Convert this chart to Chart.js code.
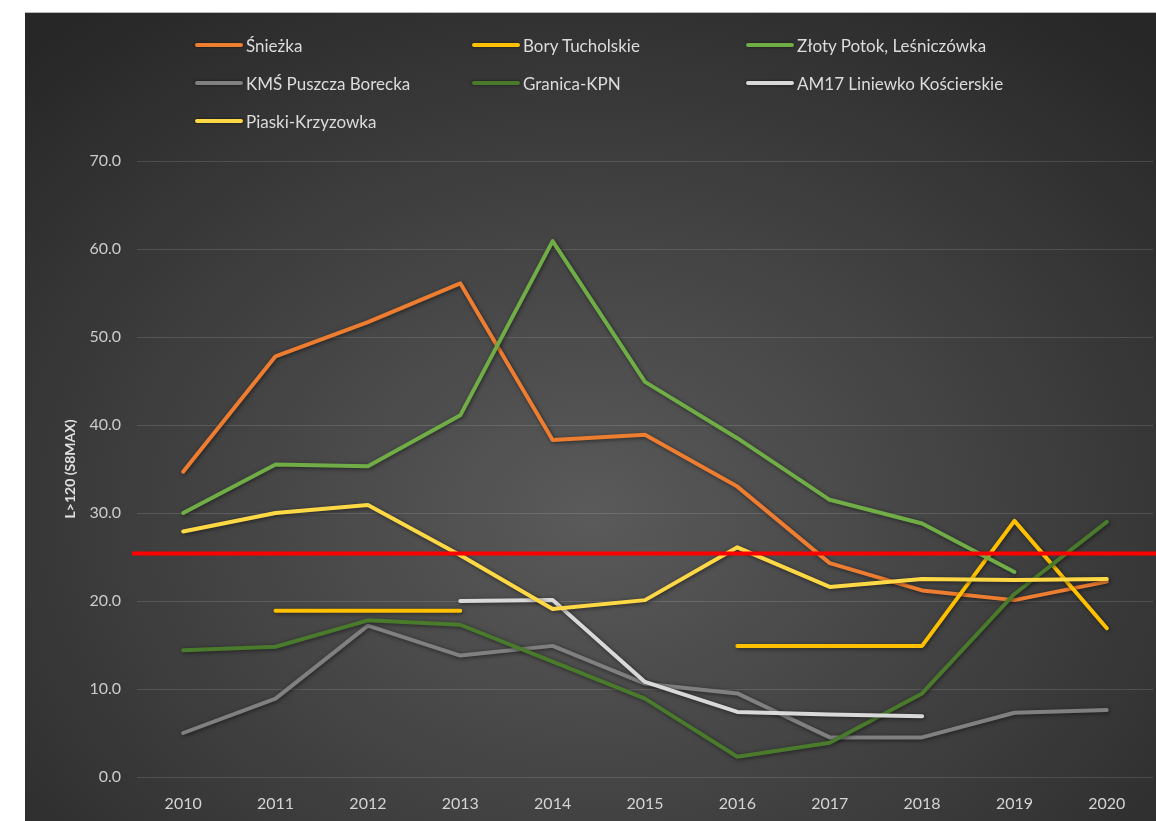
<!DOCTYPE html>
<html>
<head>
<meta charset="utf-8">
<script src="https://cdn.jsdelivr.net/npm/chart.js@4/dist/chart.umd.min.js"></script>
<style>
  html, body { margin: 0; background: #2b2b2b; overflow: hidden; width: 100%; height: 100%; }
  #topWhite { position: fixed; left: 0; top: 0; width: 100%; height: 13px; background: #ffffff; border-bottom: 1px solid #b8b8b8; box-sizing: border-box; }
  #leftWhite { position: fixed; left: 0; top: 0; width: 25px; height: 100%; background: #ffffff; }
  #panel {
    position: absolute; left: 25px; top: 13px; width: 1131px; height: 808px;
    background: radial-gradient(ellipse 72% 78% at 50% 62%, #5a5a5a 0%, #414141 50%, #272727 100%);
    overflow: hidden;
  }
  #chart { position: absolute; left: 0; top: 0; }
  #legend {
    position: absolute; left: 170px; top: 13px;
    display: grid; grid-template-columns: 277px 274px 320px; grid-auto-rows: 38px;
    font-family: Lato, "Open Sans", sans-serif; font-size: 17px; color: #dcdcdc;
  }
  .item { display: flex; align-items: center; white-space: nowrap; }
  .mark { width: 48px; height: 4px; border-radius: 2px; margin-right: 3px; box-shadow: 0 0 3px rgba(0,0,0,0.6); }
</style>
</head>
<body>
<div id="topWhite"></div>
<div id="leftWhite"></div>
<div id="panel">
  <canvas id="chart" width="1131" height="808"></canvas>
  <div id="legend"></div>
</div>
<script>
const years = ['2010', '2011', '2012', '2013', '2014', '2015', '2016', '2017', '2018', '2019', '2020'];
const sniezka = [34.7, 47.8, 51.7, 56.1, 38.3, 38.9, 33.0, 24.3, 21.2, 20.1, 22.2];
const boryTucholskie = [null, 18.9, 18.9, 18.9, null, null, 14.9, 14.9, 14.9, 29.1, 16.9];
const zlotyPotok = [30.0, 35.5, 35.3, 41.1, 60.9, 44.9, 38.5, 31.5, 28.8, 23.3, null];
const puszczaBorecka = [5.0, 8.9, 17.2, 13.8, 14.9, 10.6, 9.5, 4.5, 4.5, 7.3, 7.6];
const granicaKPN = [14.4, 14.8, 17.8, 17.3, 13.1, 8.9, 2.3, 3.9, 9.5, 20.8, 29.0];
const liniewko = [null, null, null, 20.0, 20.1, 10.8, 7.4, 7.1, 6.9, null, null];
const piaskiKrzyzowka = [27.9, 30.0, 30.9, 25.2, 19.1, 20.1, 26.1, 21.6, 22.5, 22.4, 22.5];
const limitValue = 25.4;

const seriesNames = ['Śnieżka', 'Bory Tucholskie', 'Złoty Potok, Leśniczówka', 'KMŚ Puszcza Borecka',
    'Granica-KPN', 'AM17 Liniewko Kościerskie', 'Piaski-Krzyzowka'];
const seriesData = [sniezka, boryTucholskie, zlotyPotok, puszczaBorecka, granicaKPN, liniewko, piaskiKrzyzowka];
const seriesColors = ['#ed7d31', '#ffc000', '#70ad47', '#808080', '#4a7a2c', '#d9d9d9', '#ffd945'];

const fontFamily = 'Lato, "Open Sans", sans-serif';

var datasets = [];
for (var i = 0; i < seriesNames.length; i++) {
    datasets.push({
        label: seriesNames[i],
        data: seriesData[i],
        borderColor: seriesColors[i],
        backgroundColor: seriesColors[i],
        borderWidth: 4,
        borderCapStyle: 'round',
        borderJoinStyle: 'round',
        pointRadius: 0,
        tension: 0,
        spanGaps: false,
        order: seriesNames.length - i
    });
}

// legend laid out in three columns like the original
const legendBox = document.getElementById('legend');
seriesNames.forEach(function(name, i) {
    const item = document.createElement('div');
    item.className = 'item';
    const mark = document.createElement('span');
    mark.className = 'mark';
    mark.style.background = seriesColors[i];
    const text = document.createElement('span');
    text.textContent = name;
    item.appendChild(mark);
    item.appendChild(text);
    legendBox.appendChild(item);
});

const shadowPlugin = {
    id: 'shadow',
    beforeDatasetsDraw(chart) {
        const ctx = chart.ctx;
        ctx.save();
        ctx.shadowColor = 'rgba(0, 0, 0, 0.55)';
        ctx.shadowBlur = 4;
        ctx.shadowOffsetX = 1;
        ctx.shadowOffsetY = 1;
    },
    afterDatasetsDraw(chart) {
        chart.ctx.restore();
    }
};

const limitPlugin = {
    id: 'limitLine',
    afterDatasetsDraw(chart) {
        const ctx = chart.ctx;
        const y = chart.scales.y.getPixelForValue(limitValue);
        ctx.save();
        ctx.strokeStyle = '#ff0000';
        ctx.lineWidth = 4;
        ctx.beginPath();
        ctx.moveTo(chart.chartArea.left - 5, y);
        ctx.lineTo(chart.width, y);
        ctx.stroke();
        ctx.restore();
    }
};

new Chart(document.getElementById('chart').getContext('2d'), {
    type: 'line',
    data: { labels: years, datasets: datasets },
    options: {
        responsive: false,
        animation: false,
        layout: { padding: { top: 148, right: 3, left: 0, bottom: 0 } },
        plugins: { legend: { display: false }, tooltip: { enabled: false } },
        scales: {
            x: {
                offset: true,
                grid: { display: false },
                border: { display: false },
                ticks: { color: '#d4d4d4', font: { family: fontFamily, size: 16 }, padding: 9, maxRotation: 0 },
                afterFit: function(scale) { scale.height = 44; }
            },
            y: {
                min: 0,
                max: 70,
                grid: { color: 'rgba(255,255,255,0.13)', drawTicks: false },
                border: { display: false },
                ticks: {
                    stepSize: 10,
                    color: '#cccccc',
                    padding: 16,
                    font: { family: fontFamily, size: 16 },
                    callback: function(v) { return Number(v).toFixed(1); }
                },
                title: {
                    display: true,
                    text: 'L>120 (S8MAX)',
                    color: '#e0e0e0',
                    font: { family: fontFamily, size: 14, weight: 'bold' },
                    padding: { top: 37, bottom: 0 }
                },
                afterFit: function(scale) { scale.width = 112; }
            }
        }
    },
    plugins: [shadowPlugin, limitPlugin]
});
</script>
</body>
</html>
